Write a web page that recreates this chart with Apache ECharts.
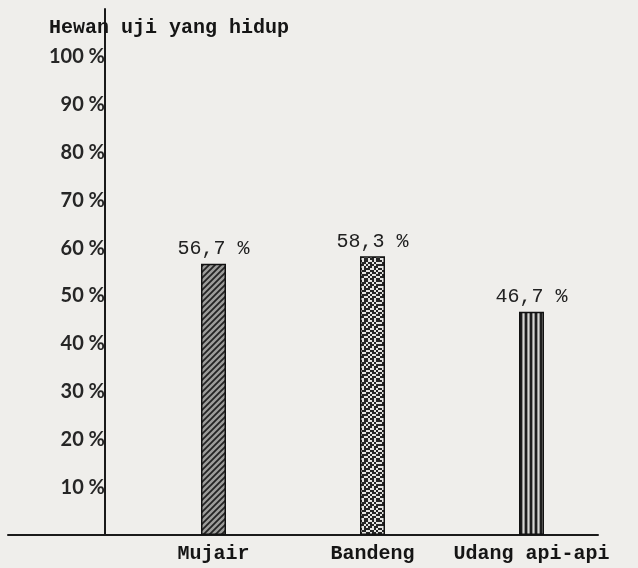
<!DOCTYPE html>
<html>
<head>
<meta charset="utf-8">
<title>Hewan uji yang hidup</title>
<script src="https://cdn.jsdelivr.net/npm/echarts@6/dist/echarts.min.js"></script>
<style>
    html, body { margin: 0; padding: 0; background: #efeeeb; }
    #chart { width: 638px; height: 568px; }
</style>
</head>
<body>
<div id="chart"></div>
<script>
// data
var categories = ['Mujair', 'Bandeng', 'Udang api-api'];
var survival = [56.7, 58.3, 46.7];

// fill patterns, one per bar
function makeCanvas(w, h) {
    var c = document.createElement('canvas');
    c.width = w;
    c.height = h;
    return c;
}

function hatch() {
    var c = makeCanvas(6, 6), g = c.getContext('2d');
    g.fillStyle = '#9c9c9a';
    g.fillRect(0, 0, 6, 6);
    g.strokeStyle = '#232323';
    g.lineWidth = 1.8;
    g.beginPath();
    g.moveTo(-1, 7); g.lineTo(7, -1);
    g.moveTo(-4, 4); g.lineTo(4, -4);
    g.moveTo(2, 10); g.lineTo(10, 2);
    g.stroke();
    return c;
}

function stipple() {
    // fixed dot map, 1 = dark
    var rows = [
        '1011001011',
        '0110110100',
        '1101011011',
        '0010110110',
        '1011100101',
        '0110011010',
        '1001101101',
        '0111010011',
        '1100101100',
        '0011011011'
    ];
    var c = makeCanvas(20, 20), g = c.getContext('2d');
    g.fillStyle = '#e4e4e2';
    g.fillRect(0, 0, 20, 20);
    g.fillStyle = '#262626';
    for (var y = 0; y < rows.length; y++) {
        for (var x = 0; x < rows[y].length; x++) {
            if (rows[y].charAt(x) === '1') {
                g.fillRect(x * 2, y * 2, 2, 2);
            }
        }
    }
    return c;
}

function stripes() {
    var c = makeCanvas(5, 4), g = c.getContext('2d');
    g.fillStyle = '#8e8e8c';
    g.fillRect(0, 0, 5, 4);
    g.fillStyle = '#1e1e1e';
    g.fillRect(0, 0, 2, 4);
    g.fillStyle = '#d6d6d4';
    g.fillRect(3, 0, 1, 4);
    return c;
}

var patterns = [hatch(), stipple(), stripes()];

var chart = echarts.init(document.getElementById('chart'));

var option = {
    backgroundColor: '#efeeeb',
    animation: false,
    title: {
        text: 'Hewan uji yang hidup',
        left: 44,
        top: 13,
        textStyle: {
            fontFamily: 'Liberation Mono',
            fontWeight: 'bold',
            fontSize: 20,
            color: '#151515'
        }
    },
    grid: [
        {left: 134, right: 27, top: 9, bottom: 33},
        {left: 8, right: 40, top: 9, bottom: 33}
    ],
    xAxis: [
        {
            type: 'category',
            gridIndex: 0,
            data: categories,
            axisLine: {show: false},
            axisTick: {show: false},
            axisLabel: {
                interval: 0,
                hideOverlap: false,
                margin: 9,
                fontFamily: 'Liberation Mono',
                fontWeight: 'bold',
                fontSize: 20,
                color: '#151515'
            }
        },
        {
            // long baseline under the whole chart
            type: 'value',
            gridIndex: 1,
            min: 0,
            max: 1,
            axisLine: {show: true, lineStyle: {color: '#1a1a1a', width: 2}},
            axisTick: {show: false},
            axisLabel: {show: false},
            splitLine: {show: false}
        }
    ],
    yAxis: [
        {
            type: 'value',
            gridIndex: 0,
            min: 0,
            max: 110,
            interval: 10,
            offset: 29,
            axisLine: {show: true, lineStyle: {color: '#1a1a1a', width: 2}},
            axisTick: {show: false},
            splitLine: {show: false},
            axisLabel: {
                margin: 0,
                fontFamily: 'Lato',
                fontWeight: 'bold',
                fontSize: 20,
                color: '#262626',
                formatter: function (v) {
                    return v > 0 && v <= 100 ? v + ' %' : '';
                }
            }
        },
        {
            type: 'value',
            gridIndex: 1,
            show: false
        }
    ],
    series: [
        {
            type: 'bar',
            xAxisIndex: 0,
            yAxisIndex: 0,
            barWidth: 25,
            data: survival.map(function (v, i) {
                return {
                    value: v,
                    itemStyle: {
                        color: {image: patterns[i], repeat: 'repeat'}
                    }
                };
            }),
            itemStyle: {
                borderColor: '#111',
                borderWidth: 1.5
            },
            label: {
                show: true,
                position: 'top',
                distance: 5,
                fontFamily: 'Liberation Mono',
                fontSize: 20,
                color: '#222',
                formatter: function (p) {
                    return String(p.value).replace('.', ',') + ' %';
                }
            }
        }
    ]
};

chart.setOption(option);
</script>
</body>
</html>
